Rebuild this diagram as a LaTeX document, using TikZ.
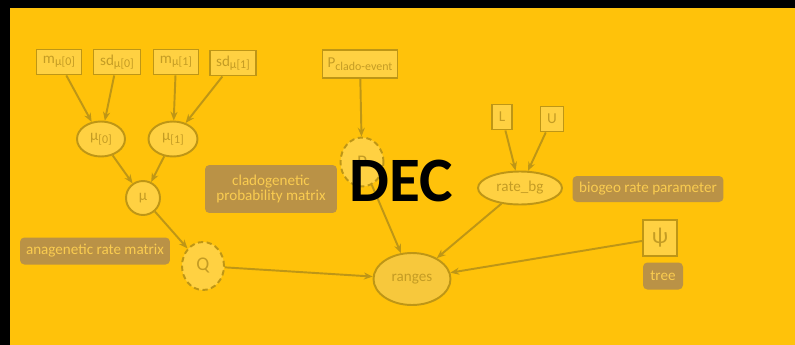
\documentclass[tikz,border=0pt]{standalone}
\usepackage{fontspec}
\setmainfont{Carlito}
\usepackage{tikz}
\usetikzlibrary{positioning, arrows.meta, calc, shapes, shapes.geometric}
\definecolor{bgyellow}{RGB}{255,194,10}
\definecolor{nodefill}{RGB}{255,209,66}
\definecolor{rangefill}{RGB}{247,200,60}
\definecolor{olive}{RGB}{190,150,22}
\definecolor{nodetext}{RGB}{196,156,36}
\definecolor{tagfill}{RGB}{186,146,70}
\definecolor{tagtext}{RGB}{250,204,80}
\newcommand{\lowidx}[1]{\raisebox{-0.35ex}{\fontsize{6.8}{7}\selectfont #1}}
\begin{document}
\begin{tikzpicture}[x=0.02cm, y=-0.02cm,
        every node/.style={font=\fontsize{8.6}{10}\selectfont, text=nodetext},
        const/.style={draw=olive, line width=1.1pt, fill=nodefill, inner sep=2pt, minimum height=0.5cm},
        stoch/.style={draw=olive, line width=1.1pt, fill=nodefill, ellipse, inner sep=1pt},
        det/.style={draw=olive, line width=1.1pt, fill=nodefill, circle, dashed, dash pattern=on 3pt off 2pt, inner sep=1pt},
        tag/.style={fill=tagfill, rounded corners=2.5pt, text=tagtext, align=center, inner sep=2pt},
        arr/.style={-{Stealth[length=5pt, width=4pt]}, draw=olive, line width=1.1pt}]
      \useasboundingbox (0,0) rectangle (795,345);
      \fill[black] (0,0) rectangle (795,345);
      \fill[bgyellow] (10,8) rectangle (795,345);

      % hyperpriors
      \node[const, minimum width=0.9cm] (m0) at (59,62) {m\lowidx{μ[0]}};
      \node[const, minimum width=0.94cm] (sd0) at (117,62) {sd\lowidx{μ[0]}};
      \node[const, minimum width=0.9cm] (m1) at (176,62) {m\lowidx{μ[1]}};
      \node[const, minimum width=0.92cm] (sd1) at (233,63) {sd\lowidx{μ[1]}};
      \node[stoch, minimum width=0.96cm, minimum height=0.7cm] (mu0) at (101,139) {μ\lowidx{[0]}};
      \node[stoch, minimum width=0.98cm, minimum height=0.7cm] (mu1) at (173,139) {μ\lowidx{[1]}};
      \node[stoch, circle, minimum size=0.68cm] (mu) at (143,198) {μ};
      \node[det, ellipse, minimum width=0.84cm, minimum height=0.96cm, font=\fontsize{11}{12}\selectfont] (Q) at (203,266) {Q};
      \node[tag, minimum width=3cm, minimum height=0.54cm] (anatag) at (95,251) {anagenetic rate matrix};

      % cladogenesis
      \node[const, minimum width=1.5cm, minimum height=0.56cm] (pclado) at (360,64) {P\lowidx{clado-event}};
      \node[det, ellipse, minimum width=0.86cm, minimum height=0.98cm, font=\fontsize{11}{12}\selectfont] (P) at (362,162) {P};
      \node[tag, minimum width=2.64cm, minimum height=0.96cm] (cladotag) at (271,189) {cladogenetic\\[-1pt]probability matrix};

      % rates
      \node[const, minimum width=0.4cm] (L) at (502,117) {L};
      \node[const, minimum width=0.46cm] (U) at (552,119) {U};
      \node[stoch, minimum width=1.68cm, minimum height=0.66cm] (ratebg) at (520,188) {rate\_bg};
      \node[tag, minimum width=3.02cm, minimum height=0.52cm] (biotag) at (648,189) {biogeo rate parameter};

      % tree and data
      \node[const, minimum width=0.68cm, minimum height=0.72cm, font=\fontsize{13}{14}\selectfont] (psi) at (660,238) {ψ};
      \node[tag, minimum width=0.8cm, minimum height=0.54cm] (treetag) at (663,276) {tree};
      \node[stoch, fill=rangefill, minimum width=1.54cm, minimum height=1.04cm] (ranges) at (412,279) {ranges};

      \draw[arr] (m0) -- (mu0);
      \draw[arr] (sd0) -- (mu0);
      \draw[arr] (m1) -- (mu1);
      \draw[arr] (sd1) -- (mu1);
      \draw[arr] (mu0) -- (mu);
      \draw[arr] (mu1) -- (mu);
      \draw[arr] (mu) -- (Q);
      \draw[arr] (Q) -- (ranges);
      \draw[arr] (pclado) -- (P);
      \draw[arr] (P) -- (ranges);
      \draw[arr] (L) -- (ratebg);
      \draw[arr] (U) -- (ratebg);
      \draw[arr] (ratebg) -- (ranges);
      \draw[arr] (psi) -- (ranges);

      \node[font=\fontsize{36}{36}\selectfont\bfseries, text=black, inner sep=0pt] (title) at (401,181) {DEC};
    \end{tikzpicture}
\end{document}
